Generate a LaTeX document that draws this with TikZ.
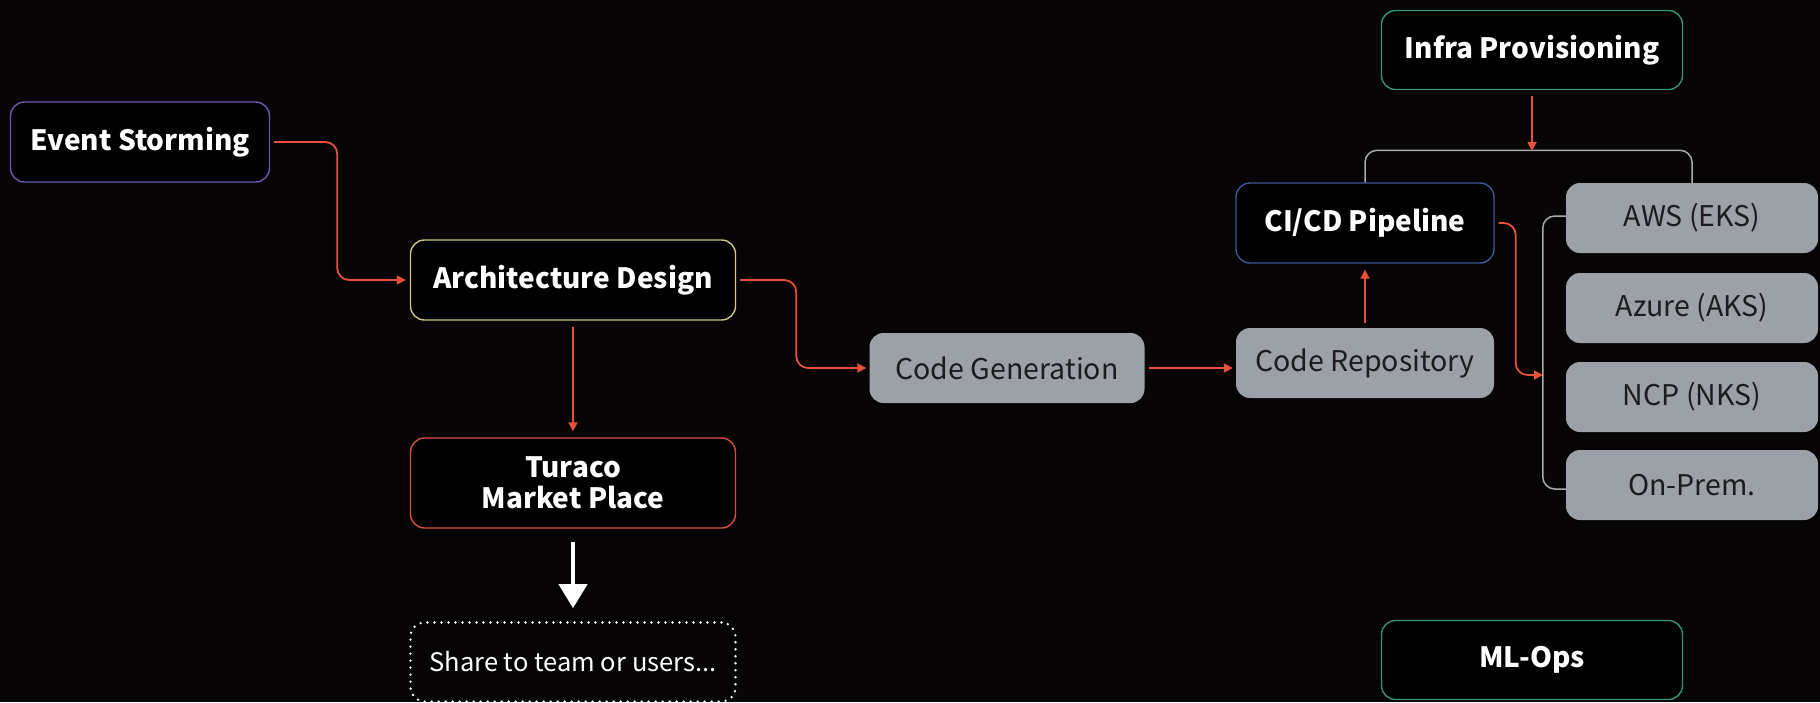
\documentclass[tikz,border=0pt]{standalone}
\usepackage{fontspec}
\setmainfont{Noto Sans CJK KR}
\usetikzlibrary{arrows.meta}

\definecolor{bgc}{RGB}{6,4,4}
\definecolor{flow}{RGB}{232,80,58}
\definecolor{cardgray}{RGB}{156,161,168}
\definecolor{cardtext}{RGB}{28,28,30}
\definecolor{brk}{RGB}{170,170,170}
\definecolor{cpurple}{RGB}{112,88,180}
\definecolor{cyellow}{RGB}{205,200,135}
\definecolor{cred}{RGB}{215,80,64}
\definecolor{cblue}{RGB}{60,90,150}
\definecolor{cgreen}{RGB}{56,150,110}

\tikzset{
  stage/.style={rounded corners=14pt, line width=1.4pt, fill=black, text=white,
    font=\bfseries\fontsize{28}{31}\selectfont, inner sep=0pt, align=center},
  card/.style={rounded corners=14pt, fill=cardgray, draw=none, text=cardtext,
    font=\fontsize{28.5}{32}\selectfont, inner sep=0pt, minimum height=70pt},
  flowarrow/.style={draw=flow, line width=1.8pt, rounded corners=12pt,
    -{Triangle[length=9pt,width=9pt]}},
  bracket/.style={draw=brk, line width=1.5pt, rounded corners=12pt},
  bigarrow/.style={draw=white, line width=4pt, -{Triangle[length=24pt,width=28pt]}},
  sharebox/.style={rounded corners=14pt, draw=white, line width=2.6pt, line cap=round,
    dash pattern=on 0pt off 7pt, text=white, font=\fontsize{25.5}{30}\selectfont}
}

\begin{document}
\begin{tikzpicture}[x=1pt,y=-1pt]
  \fill[bgc] (0,0) rectangle (1820,702);
  \useasboundingbox (0,0) rectangle (1820,702);

  % design stages
  \node[stage, draw=cpurple, minimum width=259pt, minimum height=80pt] (es) at (140,142) {Event Storming};
  \node[stage, draw=cyellow, minimum width=325pt, minimum height=80pt] (ad) at (573,280) {Architecture Design};
  \node[stage, draw=cred, minimum width=325pt, minimum height=90pt] (tm) at (573,483) {Turaco\\Market Place};
  \node[sharebox, minimum width=325pt, minimum height=79pt] (sh) at (573,662) {Share to team or users...};

  % build stages
  \node[card, minimum width=275pt] (cg) at (1007,368) {Code Generation};
  \node[card, minimum width=258pt] (cr) at (1365,363) {Code Repository};
  \node[stage, draw=cblue, minimum width=258pt, minimum height=80pt] (ci) at (1365,223) {CI/CD Pipeline};
  \node[stage, draw=cgreen, minimum width=301pt, minimum height=79pt] (ip) at (1532,50) {Infra Provisioning};
  \node[stage, draw=cgreen, minimum width=301pt, minimum height=79pt] (ml) at (1532,660) {ML-Ops};

  % deployment targets
  \node[card, minimum width=252pt] (aws) at (1692,218) {AWS (EKS)};
  \node[card, minimum width=252pt] (azure) at (1692,308) {Azure (AKS)};
  \node[card, minimum width=252pt] (ncp) at (1692,397) {NCP (NKS)};
  \node[card, minimum width=252pt] (onp) at (1692,485) {On-Prem.};

  % brackets
  \draw[bracket] (ci.north) -- ++(0,-32) -| (aws.north);
  \draw[bracket] ([yshift=2pt]aws.west) -- ++(-23,0) |- ([yshift=-4pt]onp.west);
  \coordinate (tb) at (1532,151);
  \coordinate (lb) at (1543,375);

  % flow
  \draw[flowarrow, shorten <=4pt, shorten >=4pt] (es.east) -- ++(67,0) |- (ad.west);
  \draw[flowarrow, shorten <=4pt, shorten >=3pt] (ad.east) -- ++(60,0) |- (cg.west);
  \draw[flowarrow, shorten <=6pt, shorten >=6pt] (ad.south) -- (tm.north);
  \draw[flowarrow, shorten <=4pt, shorten >=3pt] (cg.east) -- (cg.east -| cr.west);
  \draw[flowarrow, shorten <=5pt, shorten >=6pt] (cr.north) -- (ci.south);
  \draw[flowarrow, shorten <=4pt] (ci.east) -- ++(21,0) |- (lb);
  \draw[flowarrow, shorten <=6pt] (ip.south) -- (tb);
  \draw[bigarrow, shorten <=13pt, shorten >=13pt] (tm.south) -- (sh.north);
\end{tikzpicture}
\end{document}
